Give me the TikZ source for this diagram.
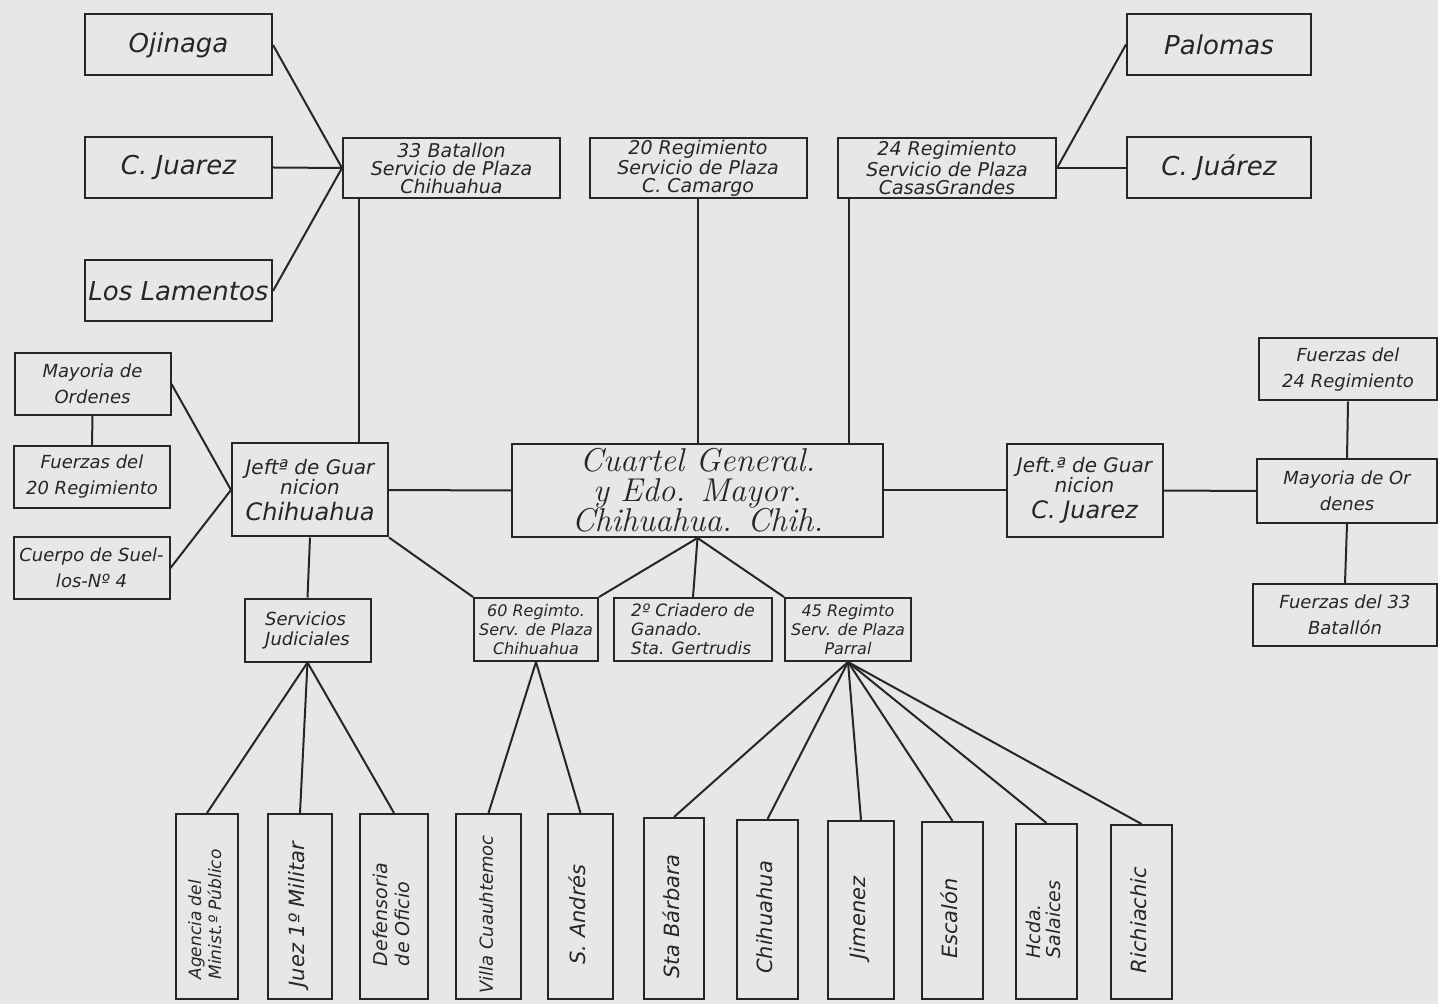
\documentclass[tikz,border=0pt]{standalone}
\usepackage{fontspec}
\usepackage{graphicx}
\usepackage{tikz}
\usetikzlibrary{positioning,calc}
\newfontfamily\hand{DejaVu Sans}
\definecolor{paper}{HTML}{E7E7E5}
\definecolor{ink}{HTML}{262626}
\newcommand{\setfs}[2]{\fontsize{#1}{#2}\selectfont}
\newcommand{\vlabel}[1]{\rotatebox{90}{\begin{tabular}{@{}l@{}}#1\end{tabular}\kern 8pt}}

\begin{document}
\begin{tikzpicture}[
  x=0.5pt, y=-0.5pt,
  box/.style={draw=ink, line width=1pt, inner sep=1pt, align=center, text=ink, font=\hand\itshape},
  site/.style={box, minimum width=93.5pt, minimum height=30.5pt, font=\hand\itshape\setfs{13}{15}},
  plaza/.style={box, minimum width=108.5pt, minimum height=30pt, font=\hand\itshape\setfs{9.5}{9}},
  sidebox/.style={box, minimum width=78pt, minimum height=31pt, font=\hand\itshape\setfs{9}{13}},
  jefa/.style={box, minimum width=78pt, minimum height=46.5pt, font=\hand\itshape\setfs{10}{10}},
  unitbox/.style={box, minimum width=63pt, minimum height=31.5pt, font=\hand\itshape\setfs{8}{9.5}},
  vbox/.style={draw=ink, line width=1pt, inner sep=0pt, text=ink, anchor=south, minimum width=32pt, minimum height=92.5pt, font=\hand\itshape\setfs{10.5}{11}},
  link/.style={draw=ink, line width=1pt}
]
\useasboundingbox (0,0) rectangle (1438,1004);
\fill[paper] (0,0) rectangle (1438,1004);

% top row
\node[site] (ojinaga) at (178.5,45) {Ojinaga};
\node[site] (juarezl) at (178.5,167.5) {C. Juarez};
\node[site] (lamentos) at (178.5,291) {Los Lamentos};
\node[plaza] (bat33) at (451.5,168) {33 Batallon\\Servicio de Plaza\\Chihuahua};
\node[plaza] (reg20) at (698,168) {20 Regimiento\\Servicio de Plaza\\C. Camargo};
\node[plaza, minimum width=109pt] (reg24) at (947,168) {24 Regimiento\\Servicio de Plaza\\CasasGrandes};
\node[site, minimum width=92pt] (palomas) at (1219,44.5) {Palomas};
\node[site, minimum width=92pt] (juarezr) at (1219,168) {C. Juárez};

% middle row
\node[sidebox] (mayorial) at (92.5,384) {Mayoria de\\Ordenes};
\node[sidebox] (fuerzas20) at (92,477) {Fuerzas del\\20 Regimiento};
\node[sidebox] (sueltos) at (91.5,568) {Cuerpo de Suel-\\los-Nº 4};
\node[jefa] (jefchi) at (310,490) {Jeftª de Guar\\nicion\\[3pt]{\setfs{12}{12}Chihuahua}};
\node[box, font=\itshape\setfs{16.5}{15}, minimum width=185.5pt, minimum height=46.5pt] (cuartel) at (697.5,490.5) {Cuartel General.\\y Edo. Mayor.\\Chihuahua. Chih.};
\node[jefa] (jefjua) at (1084.5,490.5) {Jeft.ª de Guar\\nicion\\[3pt]{\setfs{12}{12}C. Juarez}};
\node[sidebox, minimum width=89pt] (fuerzas24) at (1348,369.5) {Fuerzas del\\24 Regimiento};
\node[sidebox, minimum width=90pt, minimum height=32pt] (mayoriar) at (1347,491) {Mayoria de Or\\denes};
\node[sidebox, minimum width=92pt] (fuerzas33) at (1345,615) {Fuerzas del 33\\Batallón};

% lower row
\node[unitbox, align=left, font=\hand\itshape\setfs{9}{10}] (judiciales) at (307.5,630) {Servicios\\Judiciales};
\node[unitbox, minimum width=62pt] (reg60) at (536,629.5) {60 Regimto.\\Serv. de Plaza\\Chihuahua};
\node[unitbox, minimum width=79pt, align=left, font=\hand\itshape\setfs{8.5}{9.5}] (criadero) at (693,629.5) {2º Criadero de\\Ganado.\\Sta. Gertrudis};
\node[unitbox] (reg45) at (848,629.5) {45 Regimto\\Serv. de Plaza\\Parral};

% bottom row
\node[vbox, minimum width=31pt, font=\hand\itshape\setfs{8.5}{10}] (agencia) at (207,1000) {\vlabel{Agencia del\\Minist.º Público}};
\node[vbox] (juez) at (300,1000) {\vlabel{Juez 1º Militar}};
\node[vbox, minimum width=34pt, font=\hand\itshape\setfs{9.5}{11}] (defensoria) at (394,1000) {\vlabel{Defensoria\\de Oficio}};
\node[vbox, minimum width=32.5pt, font=\hand\itshape\setfs{9}{11}] (villa) at (488.5,1000) {\vlabel{Villa Cuauhtemoc}};
\node[vbox, minimum width=32.5pt] (sandres) at (580.5,1000) {\vlabel{S. Andrés}};
\node[vbox, minimum width=30pt, minimum height=90.5pt] (barbara) at (674,1000) {\vlabel{Sta Bárbara}};
\node[vbox, minimum width=30.5pt, minimum height=89.5pt] (chihuahua) at (767.5,1000) {\vlabel{Chihuahua}};
\node[vbox, minimum width=33pt, minimum height=89pt] (jimenez) at (861,1000) {\vlabel{Jimenez}};
\node[vbox, minimum width=30.5pt, minimum height=88.5pt] (escalon) at (952.5,1000) {\vlabel{Escalón}};
\node[vbox, minimum width=30.5pt, minimum height=87.5pt, font=\hand\itshape\setfs{9.5}{10}] (salaices) at (1046.5,1000) {\vlabel{Hcda.\\Salaices}};
\node[vbox, minimum width=30.5pt, minimum height=87pt] (richiachic) at (1141.5,1000) {\vlabel{Richiachic}};

% connectors
\draw[link] (ojinaga.east) -- (bat33.west);
\draw[link] (juarezl.east) -- (bat33.west);
\draw[link] (lamentos.east) -- (bat33.west);
\draw[link] (reg24.east) -- (palomas.west);
\draw[link] (reg24.east) -- (juarezr.west);
\draw[link] ([xshift=8.5pt]bat33.south west) -- ([xshift=8.5pt]bat33.south west |- jefchi.north);
\draw[link] (reg20.south) -- (reg20.south |- cuartel.north);
\draw[link] ([xshift=6pt]reg24.south west) -- ([xshift=6pt]reg24.south west |- cuartel.north);
\draw[link] (mayorial.south) -- (fuerzas20.north);
\draw[link] (mayorial.east) -- (jefchi.west);
\draw[link] (sueltos.east) -- (jefchi.west);
\draw[link] (jefchi.east) -- (cuartel.west);
\draw[link] (cuartel.east) -- (jefjua.west);
\draw[link] (jefjua.east) -- (mayoriar.west);
\draw[link] (fuerzas24.south) -- (mayoriar.north);
\draw[link] (mayoriar.south) -- (fuerzas33.north);
\draw[link] (jefchi.south) -- (judiciales.north);
\draw[link] (jefchi.south east) -- (reg60.north west);
\draw[link] (cuartel.south) -- (reg60.north east);
\draw[link] (cuartel.south) -- (criadero.north);
\draw[link] (cuartel.south) -- (reg45.north west);
\draw[link] (judiciales.south) -- (agencia.north);
\draw[link] (judiciales.south) -- (juez.north);
\draw[link] (judiciales.south) -- (defensoria.north);
\draw[link] (reg60.south) -- (villa.north);
\draw[link] (reg60.south) -- (sandres.north);
\draw[link] (reg45.south) -- (barbara.north);
\draw[link] (reg45.south) -- (chihuahua.north);
\draw[link] (reg45.south) -- (jimenez.north);
\draw[link] (reg45.south) -- (escalon.north);
\draw[link] (reg45.south) -- (salaices.north);
\draw[link] (reg45.south) -- (richiachic.north);
\end{tikzpicture}
\end{document}
